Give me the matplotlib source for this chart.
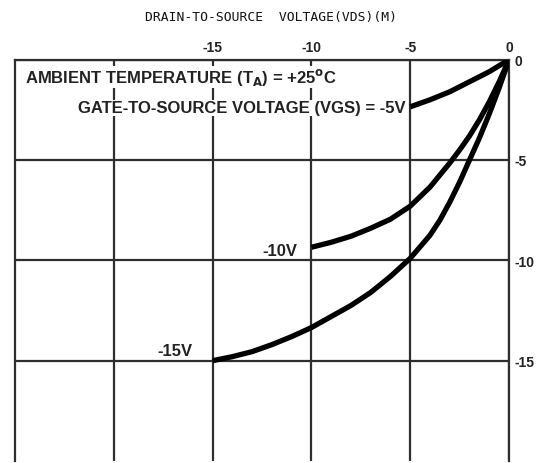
import matplotlib
matplotlib.use("Agg")
import matplotlib.pyplot as plt

# drain current curves, VDS (V) vs ID
vds_5 = [-5, -4, -3, -2, -1, -0.5, 0]
id_5 = [-2.35, -2.0, -1.6, -1.1, -0.6, -0.3, 0]

vds_10 = [-10, -9, -8, -7, -6, -5, -4, -3, -2.5, -2, -1.5, -1, -0.5, 0]
id_10 = [-9.35, -9.1, -8.8, -8.4, -7.95, -7.3, -6.35, -5.15, -4.5, -3.8, -3.0, -2.1, -1.1, 0]

vds_15 = [-15, -14, -13, -12, -11, -10, -9, -8, -7, -6, -5, -4, -3.5, -3,
          -2.5, -2, -1.5, -1, -0.5, 0]
id_15 = [-15, -14.8, -14.55, -14.2, -13.8, -13.35, -12.8, -12.25, -11.6,
         -10.8, -9.9, -8.75, -8.0, -7.1, -6.1, -5.0, -3.9, -2.7, -1.4, 0]

x_ticks = [-20, -15, -10, -5, 0]
x_labels = ["", "-15", "-10", "-5", "0"]
y_ticks = [0, -5, -10, -15]
y_labels = ["0", "-5", "-10", "-15"]

title = "DRAIN-TO-SOURCE  VOLTAGE(VDS)(M)"
note1 = "AMBIENT TEMPERATURE (T$_\\mathbf{A}$) = +25$^\\mathbf{o}$C"
note2 = "GATE-TO-SOURCE VOLTAGE (VGS) = -5V"

fig = plt.figure(figsize=(5.52, 4.64), dpi=100)
ax = fig.add_axes([0.0272, 0.0043, 0.895, 0.865])

grid_col = "#2e2e2e"
ax.set_xlim(-25, 0)
ax.set_ylim(-20, 0)
ax.set_xticks(x_ticks)
ax.set_xticklabels(x_labels)
ax.set_yticks(y_ticks)
ax.set_yticklabels(y_labels)
ax.xaxis.tick_top()
ax.yaxis.tick_right()
ax.tick_params(length=0, labelsize=10, pad=4)
for lab in ax.get_xticklabels() + ax.get_yticklabels():
    lab.set_fontweight("bold")
    lab.set_family("Liberation Sans")
    lab.set_color("#222222")
ax.grid(True, color=grid_col, linewidth=1.6)
for side, sp in ax.spines.items():
    sp.set_color(grid_col)
    sp.set_linewidth(1.6)
ax.spines["bottom"].set_visible(False)

for xs, ys in [(vds_5, id_5), (vds_10, id_10), (vds_15, id_15)]:
    ax.plot(xs, ys, color="black", linewidth=3.8, solid_capstyle="butt",
            solid_joinstyle="round", zorder=5)

font = dict(fontsize=12, fontweight="bold", family="Liberation Sans", color="#222222")
box = dict(facecolor="white", edgecolor="none", pad=0.5)
ax.text(-24.5, -0.85, note1, va="center", ha="left", bbox=box, zorder=4, **font)
ax.text(-5.25, -2.4, note2, va="center", ha="right", bbox=box, zorder=4, **font)
ax.text(-10.7, -9.5, "-10V", va="center", ha="right", zorder=4, **font)
ax.text(-16.0, -14.5, "-15V", va="center", ha="right", zorder=4, **font)

fig.text(271 / 552, 1 - 18 / 464, title, fontsize=9.4, family="DejaVu Sans Mono",
         ha="center", va="center", color="#111111")

fig.savefig("out.png", dpi=100)
